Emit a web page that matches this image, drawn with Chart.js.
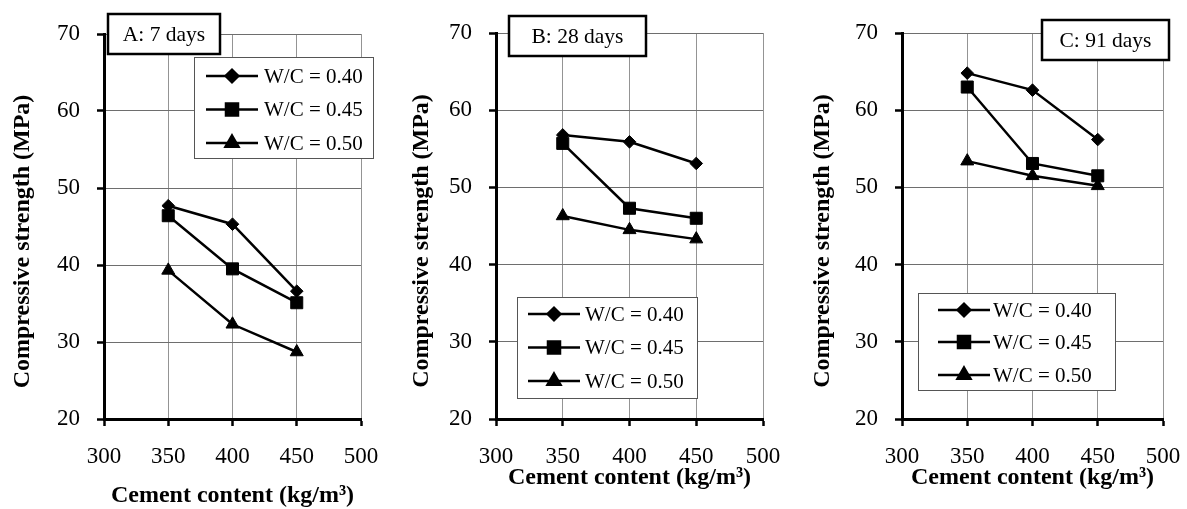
<!DOCTYPE html>
<html>
<head>
<meta charset="utf-8">
<script src="https://cdn.jsdelivr.net/npm/chart.js@4/dist/chart.umd.min.js"></script>
<style>
  html, body { margin: 0; padding: 0; background: #fff; }
  #wrap { position: relative; width: 1187px; height: 509px; background: #fff; overflow: hidden; }
  canvas { position: absolute; top: 0; }
</style>
</head>
<body>
<div id="wrap">
  <canvas id="cA" width="401" height="509" style="left:0px"></canvas>
  <canvas id="cB" width="408" height="509" style="left:395px"></canvas>
  <canvas id="cC" width="413" height="509" style="left:790px"></canvas>
</div>
<script>
// ---------- DATA ----------
const cementContent = [350, 400, 450];
const seriesLabels = ['W/C = 0.40', 'W/C = 0.45', 'W/C = 0.50'];
const panelTitles = ['A: 7 days', 'B: 28 days', 'C: 91 days'];

const wc40_7d  = [47.7, 45.3, 36.6];
const wc45_7d  = [46.4, 39.5, 35.1];
const wc50_7d  = [39.3, 32.3, 28.7];

const wc40_28d = [56.8, 55.9, 53.1];
const wc45_28d = [55.7, 47.3, 46.0];
const wc50_28d = [46.3, 44.5, 43.3];

const wc40_91d = [64.8, 62.6, 56.2];
const wc45_91d = [63.0, 53.1, 51.5];
const wc50_91d = [53.4, 51.5, 50.2];

const xTicks = [300, 350, 400, 450, 500];
const yTicks = [20, 30, 40, 50, 60, 70];

const xTitle = 'Cement content (kg/m\u00B3)';
const yTitle = 'Compressive strength (MPa)';

// ---------- STYLE ----------
const FONT = "'Liberation Serif', 'Times New Roman', serif";
const markerStyles = [
  { pointStyle: 'rectRot', radius: 6.3 },
  { pointStyle: 'rect', radius: 8.5 },
  { pointStyle: 'triangle', radius: 7.5 }
];

const boxesPlugin = {
  id: 'panelBoxes',
  afterDraw(chart, args, opts) {
    const ctx = chart.ctx;
    ctx.save();
    // title box
    const t = opts.titleBox;
    ctx.fillStyle = '#fff';
    ctx.fillRect(t.x, t.y, t.w, t.h);
    ctx.lineWidth = 2.5;
    ctx.strokeStyle = '#000';
    ctx.strokeRect(t.x, t.y, t.w, t.h);
    ctx.fillStyle = '#000';
    ctx.font = '21.5px ' + FONT;
    ctx.textAlign = 'center';
    ctx.textBaseline = 'middle';
    ctx.fillText(opts.title, t.x + t.w / 2, t.y + t.h / 2 + 1);
    // legend box
    const L = opts.legend;
    ctx.fillStyle = '#fff';
    ctx.fillRect(L.x, L.y, L.w, L.h);
    ctx.lineWidth = 1;
    ctx.strokeStyle = '#555';
    ctx.strokeRect(L.x + 0.5, L.y + 0.5, L.w, L.h);
    chart.data.datasets.forEach((ds, i) => {
      const y = L.rows[i];
      ctx.strokeStyle = '#000';
      ctx.lineWidth = 2.5;
      ctx.beginPath();
      ctx.moveTo(L.x0, y);
      ctx.lineTo(L.x1, y);
      ctx.stroke();
      ctx.fillStyle = '#000';
      ctx.strokeStyle = '#000';
      Chart.helpers.drawPoint(ctx, {
        pointStyle: ds.pointStyle,
        radius: ds.pointRadius,
        borderWidth: 1,
        rotation: 0
      }, (L.x0 + L.x1) / 2, y);
      ctx.fillStyle = '#000';
      ctx.font = '21px ' + FONT;
      ctx.textAlign = 'left';
      ctx.textBaseline = 'middle';
      ctx.fillText(ds.label, L.tx, y + 1);
    });
    ctx.restore();
  }
};

function makeChart(id, seriesArrays, cfg) {
  const datasets = seriesArrays.map((vals, i) => ({
    label: seriesLabels[i],
    data: cementContent.map((x, j) => ({ x: x, y: vals[j] })),
    showLine: true,
    borderColor: '#000',
    borderWidth: 2.5,
    backgroundColor: '#000',
    pointStyle: markerStyles[i].pointStyle,
    pointRadius: markerStyles[i].radius,
    pointHoverRadius: markerStyles[i].radius,
    pointBackgroundColor: '#000',
    pointBorderColor: '#000',
    pointBorderWidth: 1,
    tension: 0
  }));
  return new Chart(document.getElementById(id), {
    type: 'scatter',
    data: { datasets },
    plugins: [boxesPlugin],
    options: {
      responsive: false,
      maintainAspectRatio: false,
      animation: false,
      devicePixelRatio: 1,
      layout: { padding: { left: cfg.padLeft, right: 40, top: cfg.padTop, bottom: 0 } },
      plugins: {
        legend: { display: false },
        tooltip: { enabled: false },
        panelBoxes: { title: cfg.title, titleBox: cfg.titleBox, legend: cfg.legend }
      },
      scales: {
        x: {
          type: 'linear',
          min: xTicks[0], max: xTicks[xTicks.length - 1],
          afterBuildTicks: (s) => { s.ticks = xTicks.map(v => ({ value: v })); },
          afterFit: (s) => { s.height = 90; },
          grid: { color: '#949494', lineWidth: 1, tickLength: 7, tickColor: '#000', tickWidth: 2.5 },
          border: { display: true, color: '#000', width: 3 },
          ticks: { color: '#000', font: { family: FONT, size: 23 }, padding: 17, maxRotation: 0, autoSkip: false },
          title: { display: true, text: xTitle, color: '#000',
                   font: { family: FONT, size: 24, weight: 'bold', lineHeight: 1.1 },
                   padding: { top: 0, bottom: cfg.xTitlePad } }
        },
        y: {
          type: 'linear',
          min: yTicks[0], max: yTicks[yTicks.length - 1],
          afterBuildTicks: (s) => { s.ticks = yTicks.map(v => ({ value: v })); },
          afterFit: (s) => { s.width = cfg.yWidth; },
          grid: { color: '#6e6e6e', lineWidth: 1, tickLength: 7, tickColor: '#000', tickWidth: 2.5 },
          border: { display: true, color: '#000', width: 3 },
          ticks: { color: '#000', font: { family: FONT, size: 23 }, padding: 17 },
          title: { display: true, text: yTitle + '     ', color: '#000',
                   font: { family: FONT, size: 24, weight: 'bold', lineHeight: 1.1 },
                   padding: { top: 0, bottom: 0 } }
        }
      }
    }
  });
}

makeChart('cA', [wc40_7d, wc45_7d, wc50_7d], {
  title: panelTitles[0],
  padLeft: 10, yWidth: 94, padTop: 34, xTitlePad: 0,
  titleBox: { x: 108, y: 14, w: 112, h: 40 },
  legend: { x: 194, y: 57, w: 179, h: 101, rows: [76, 109.5, 143], x0: 206, x1: 258, tx: 264 }
});
makeChart('cB', [wc40_28d, wc45_28d, wc50_28d], {
  title: panelTitles[1],
  padLeft: 14, yWidth: 87, padTop: 33, xTitlePad: 18,
  titleBox: { x: 114, y: 16, w: 137, h: 40 },
  legend: { x: 122, y: 297, w: 180, h: 101, rows: [314, 347.5, 381], x0: 133, x1: 185, tx: 190 }
});
makeChart('cC', [wc40_91d, wc45_91d, wc50_91d], {
  title: panelTitles[2],
  padLeft: 20, yWidth: 92, padTop: 33, xTitlePad: 18,
  titleBox: { x: 252, y: 20, w: 127, h: 40 },
  legend: { x: 128, y: 293, w: 197, h: 97, rows: [310, 342, 375], x0: 148, x1: 200, tx: 203 }
});
</script>
</body>
</html>
